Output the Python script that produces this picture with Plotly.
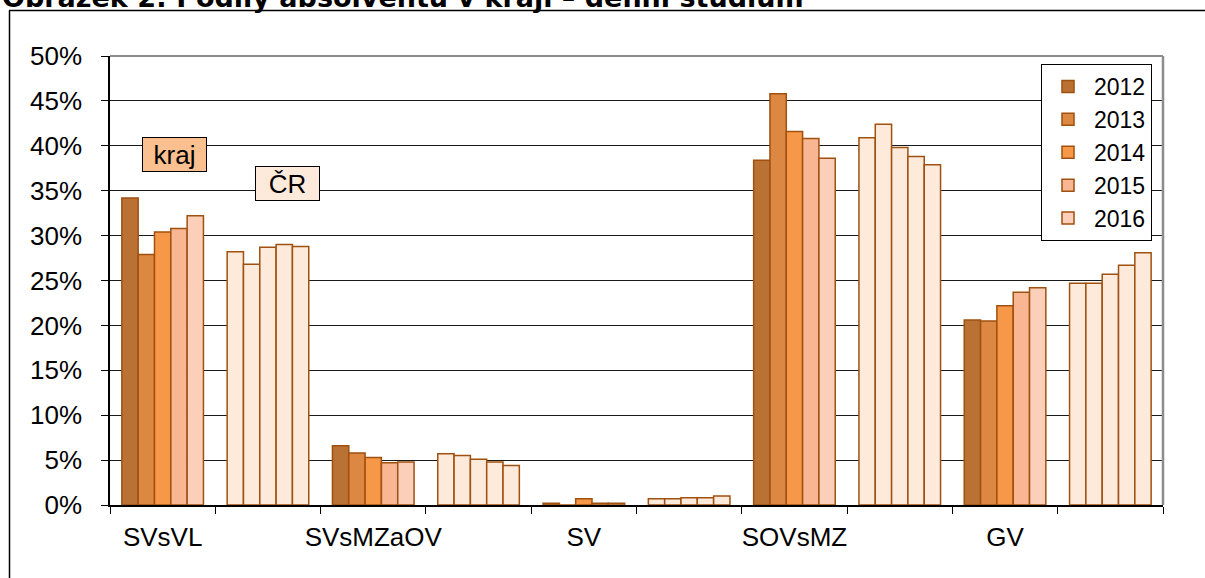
import plotly.graph_objects as go

# ---- data (percent) ----
categories = ["SVsVL", "SVsMZaOV", "SV", "SOVsMZ", "GV"]
years = ["2012", "2013", "2014", "2015", "2016"]

kraj_2012 = [34.2, 6.6, 0.2, 38.4, 20.6]
kraj_2013 = [27.9, 5.8, 0.0, 45.8, 20.5]
kraj_2014 = [30.4, 5.3, 0.7, 41.6, 22.2]
kraj_2015 = [30.8, 4.7, 0.2, 40.8, 23.7]
kraj_2016 = [32.2, 4.8, 0.2, 38.6, 24.2]

cr_2012 = [28.2, 5.7, 0.7, 40.9, 24.7]
cr_2013 = [26.8, 5.5, 0.7, 42.4, 24.7]
cr_2014 = [28.7, 5.1, 0.8, 39.8, 25.7]
cr_2015 = [29.0, 4.8, 0.8, 38.8, 26.7]
cr_2016 = [28.8, 4.4, 1.0, 37.9, 28.1]

kraj_series = [kraj_2012, kraj_2013, kraj_2014, kraj_2015, kraj_2016]
cr_series = [cr_2012, cr_2013, cr_2014, cr_2015, cr_2016]

# ---- styles ----
kraj_colors = ["#BA7134", "#DC8742", "#F79848", "#F9B692", "#FBCFBA"]
cr_color = "#FDEADA"
outline = "#A0500F"
FONT = "Liberation Sans, Arial, sans-serif"
FS = 26

# category slots: kraj, ČR alternating
x_slots = []
x_text = []
for c in categories:
    x_slots.append(c)
    x_text.append(c)
    x_slots.append(c + " ČR")
    x_text.append("")

fig = go.Figure()
for yi, year in enumerate(years):
    vals = []
    cols = []
    for ci in range(len(categories)):
        vals.append(kraj_series[yi][ci] / 100)
        cols.append(kraj_colors[yi])
        vals.append(cr_series[yi][ci] / 100)
        cols.append(cr_color)
    fig.add_trace(go.Bar(
        x=x_slots, y=vals, name=year,
        marker=dict(color=cols, line=dict(color=outline, width=1.5)),
    ))

L, R, T, B = 110, 42, 56, 73
W, H = 1205, 578
pw, ph = W - L - R, H - T - B

def px_x(p):
    return (p - L) / pw

def px_y(p):
    return (H - B - p) / ph

fig.update_layout(
    width=W, height=H,
    margin=dict(l=L, r=R, t=T, b=B, autoexpand=False),
    paper_bgcolor="white", plot_bgcolor="white",
    barmode="group", bargap=0.225, bargroupgap=0,
    font=dict(family=FONT, size=FS, color="black"),
    showlegend=True,
    legend=dict(
        x=px_x(1152), xanchor="right", y=px_y(64), yanchor="top",
        bgcolor="white", bordercolor="black", borderwidth=1,
        font=dict(family=FONT, size=23, color="black"),
        tracegroupgap=0, itemwidth=42,
    ),
    xaxis=dict(
        type="category", categoryorder="array", categoryarray=x_slots,
        tickmode="array", tickvals=x_slots, ticktext=x_text,
        tickson="boundaries", ticks="outside", ticklen=7, tickcolor="black",
        showline=True, linecolor="black", linewidth=1.5,
        showgrid=False, ticklabelstandoff=8, tickangle=0, automargin=False,
        tickfont=dict(family=FONT, size=FS, color="black"),
    ),
    yaxis=dict(
        range=[0, 0.5], dtick=0.05, tickformat=".0%",
        ticks="outside", ticklen=7, tickcolor="black",
        showline=True, linecolor="black", linewidth=1.5,
        showgrid=True, gridcolor="#1a1a1a", gridwidth=1,
        ticklabelstandoff=14, zeroline=False, automargin=False,
        tickfont=dict(family=FONT, size=FS, color="black"),
    ),
)

# plot area border (grey, top & right)
fig.add_shape(type="line", xref="paper", yref="paper", x0=0, x1=1, y0=1, y1=1,
              line=dict(color="#8c8c8c", width=2), layer="above")
fig.add_shape(type="line", xref="paper", yref="paper", x0=1, x1=1, y0=0, y1=1,
              line=dict(color="#8c8c8c", width=2.5), layer="above")

# outer frame (top and left edges)
fig.add_shape(type="line", xref="paper", yref="paper", x0=px_x(9), x1=px_x(1210),
              y0=px_y(10.5), y1=px_y(10.5), line=dict(color="black", width=1.5))
fig.add_shape(type="line", xref="paper", yref="paper", x0=px_x(9.5), x1=px_x(9.5),
              y0=px_y(10.5), y1=px_y(590), line=dict(color="black", width=1.5))

# title (cut off at top as in source)
fig.add_annotation(
    text="<b>Obrázek 2: Podíly absolventů v kraji – denní studium</b>",
    xref="paper", yref="paper", x=px_x(0), y=px_y(15), xanchor="left", yanchor="bottom",
    showarrow=False, font=dict(family="DejaVu Sans, Verdana, sans-serif", size=27, color="black"),
)

# label boxes
fig.add_annotation(text="kraj", xref="paper", yref="paper",
                   x=px_x(174.7), y=px_y(154.8), xanchor="center", yanchor="middle",
                   showarrow=False, bgcolor="#FAC090", bordercolor="black", borderwidth=1,
                   width=63, height=33, borderpad=0,
                   font=dict(family=FONT, size=FS, color="black"))
fig.add_annotation(text="ČR", xref="paper", yref="paper",
                   x=px_x(287.3), y=px_y(183.8), xanchor="center", yanchor="middle",
                   showarrow=False, bgcolor=cr_color, bordercolor="black", borderwidth=1,
                   width=63, height=33, borderpad=0,
                   font=dict(family=FONT, size=FS, color="black"))

fig.write_html("out.html", config={"displayModeBar": False},
               post_script="document.body.style.margin='0px';")
